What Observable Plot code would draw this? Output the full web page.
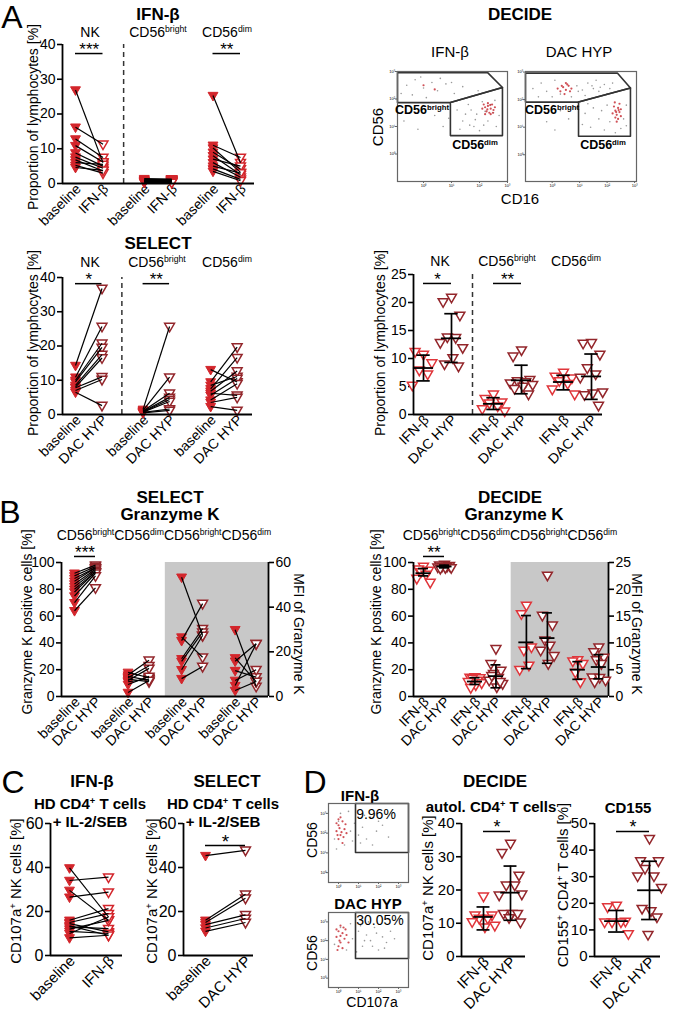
<!DOCTYPE html>
<html><head><meta charset="utf-8">
<script src="https://cdn.jsdelivr.net/npm/d3@7"></script>
<script src="https://cdn.jsdelivr.net/npm/@observablehq/plot@0.6"></script>
<style>
body{margin:0;background:#fff;font-family:"Liberation Sans",Arial,sans-serif;color:#000}
#root{position:relative;width:677px;height:1011px;overflow:hidden;background:#fff}
.t{position:absolute;white-space:nowrap;line-height:1}
sup{font-size:0.62em;vertical-align:0;position:relative;top:-0.55em}
</style></head><body><div id="root"></div><script>
// ---------------- DATA ----------------
// A – IFN-β cohort, paired baseline -> IFN-β (% of lymphocytes)
const aIfnNkBase  = [26.9,16.2,12.8,10.9,8.8,7.6,6.8,6.0,5.2,4.6];
const aIfnNkPost  = [6.0,11.3,7.5,6.2,5.0,4.4,3.6,5.5,3.0,3.8];
const aIfnBrBase  = [1.4,1.2,1.0,0.9,0.8,0.7,0.6,0.5,0.4,0.3];
const aIfnBrPost  = [1.3,1.1,0.9,0.8,1.0,0.6,0.7,0.4,0.5,0.3];
const aIfnDimBase = [25.3,11.0,10.2,9.0,8.0,7.0,6.0,5.0,4.2,3.5];
const aIfnDimPost = [6.0,7.5,3.2,4.2,2.5,5.0,1.8,3.0,1.2,0.8];
// A – SELECT, paired baseline -> DAC HYP
const aSelNkBase  = [14.3,10.9,10.0,9.5,8.5,8.0,7.8,7.0,6.5];
const aSelNkPost  = [36.8,25.7,20.8,19.6,17.5,16.5,11.0,10.2,2.6];
const aSelBrBase  = [1.5,1.2,1.0,0.9,0.8,0.7,0.6,0.5];
const aSelBrPost  = [25.7,10.9,6.2,5.0,4.4,3.8,1.6,1.2];
const aSelDimBase = [13.1,9.5,8.5,7.5,6.8,6.2,5.6,4.2,3.5,2.3];
const aSelDimPost = [9.5,19.7,11.1,16.6,12.7,5.6,10.5,9.0,5.0,1.2];
// A – DECIDE, IFN-β vs DAC HYP (values; stats = [mean, lower SD, upper SD])
const aDecNkIfn  = [10.7,11.2,9.2,7.9,7.2,5.2];
const aDecNkDac  = [20.9,20.1,17.7,13.8,13.7,12.8,11.9,10.1,9.0,8.6];
const aDecBrIfn  = [3.6,2.8,2.2,2.0,1.5,1.0,0.6];
const aDecBrDac  = [11.5,10.4,6.2,6.0,5.8,5.6,5.3,5.0,4.6,3.6];
const aDecDimIfn = [7.5,6.8,6.5,6.0,5.5,4.5,3.6];
const aDecDimDac = [12.8,12.7,10.7,8.3,7.2,6.6,4.0,3.8,3.5,1.6];
const aDecStats  = [[8.3,6.0,10.6],[13.6,9.3,18.0],[1.9,0.9,3.0],[6.1,3.7,8.8],[5.8,4.4,7.0],[6.8,2.7,10.8]];
// A – DECIDE flow plots (log10 decades of CD16, CD56)
const flowIfnGrey = [[-0.6,2.5],[-0.3,2.7],[0.0,2.4],[0.3,2.6],[0.5,2.3],[0.8,2.55],[1.1,2.2],[1.4,2.45],[-0.8,2.2],[0.1,2.05],[0.6,2.75],[1.7,2.1],[-0.4,2.15],[-0.7,1.2],[-0.2,0.9],[0.4,1.4],[0.7,1.0],[0.2,1.7],[1.2,1.6],[1.4,1.2],[1.6,1.8],[1.8,1.0],[1.9,1.45],[2.1,1.9],[2.0,0.85],[2.3,1.2],[2.5,1.5],[2.6,1.0],[1.5,1.45],[1.7,1.6],[2.2,1.55],[2.4,1.8],[1.3,0.9],[2.55,1.95],[1.85,1.25],[2.15,1.05],[1.0,2.6],[-0.1,2.8],[1.95,2.3],[0.9,1.3],[2.7,1.4],[1.65,1.05]];
const flowIfnRed  = [[2.2,1.7],[2.3,1.75],[2.4,1.65],[2.25,1.55],[2.45,1.8],[2.35,1.5],[2.1,1.65],[2.5,1.6],[2.3,1.85],[2.4,1.45],[2.2,1.45],[2.55,1.7],[2.28,1.62],[2.38,1.78],[2.15,1.8],[2.48,1.5],[0.0,2.5],[0.4,2.35]];
const flowDacGrey = [[-0.7,2.4],[-0.4,2.6],[-0.2,2.3],[0.1,2.7],[0.3,2.2],[0.9,2.5],[1.1,2.35],[1.3,2.6],[1.5,2.4],[1.7,2.3],[1.9,2.55],[2.1,2.4],[1.2,2.15],[0.7,2.1],[-0.5,2.1],[1.6,2.7],[2.0,2.2],[0.0,2.1],[-0.6,1.5],[-0.2,1.2],[0.3,1.6],[0.6,1.3],[0.9,1.7],[0.1,0.9],[1.2,1.5],[1.4,1.0],[1.5,1.7],[1.7,1.3],[1.9,0.9],[2.0,1.8],[2.1,1.2],[2.3,0.8],[2.6,1.3],[2.7,1.8],[1.3,1.85],[1.8,1.6],[2.5,0.95],[2.7,1.05],[1.1,1.1],[1.45,2.5],[1.75,2.45],[0.95,2.3],[2.2,2.6]];
const flowDacRed  = [[0.4,2.45],[0.5,2.35],[0.6,2.5],[0.3,2.3],[0.55,2.55],[0.45,2.2],[0.7,2.4],[0.2,2.4],[0.65,2.3],[0.5,2.6],[0.35,2.5],[2.3,1.6],[2.4,1.7],[2.35,1.45],[2.45,1.55],[2.25,1.75],[2.4,1.3],[2.3,1.35],[2.5,1.65],[2.2,1.5],[2.45,1.85],[2.35,1.2],[2.5,1.4],[2.33,1.55],[2.42,1.62],[2.28,1.9]];
const gateIfnBright = [[-0.93,2.96],[2.29,2.96],[2.82,2.42],[0.96,1.87],[-0.93,1.87],[-0.93,2.96]];
const gateIfnDim    = [[0.96,1.87],[2.82,2.42],[2.82,0.67],[0.96,0.67],[0.96,1.87]];
const gateDacBright = [[-0.97,2.96],[2.38,2.96],[2.85,2.42],[0.96,1.91],[-0.97,1.91],[-0.97,2.96]];
const gateDacDim    = [[0.96,1.91],[2.85,2.42],[2.85,0.67],[0.96,0.67],[0.96,1.91]];
// B – Granzyme K, SELECT paired (% positive; MFI)
const bSelBrBase     = [92,90,88,86,84,82,80,78,75,70,64];
const bSelBrPost     = [98,97,96,96,95,94,93,93,92,90,81];
const bSelDimBase    = [18,16,15,14,13,12,11,9,3];
const bSelDimPost    = [14,27,12,23,11,21,13,15,12];
const bSelBrMfiBase  = [53.4,26.6,25.0,16.9,15.7,12.0,8.0];
const bSelBrMfiPost  = [27.3,17.6,41.6,30.4,28.8,27.3,13.4];
const bSelDimMfiBase = [29.9,17.3,15.8,11.6,7.2,4.9,2.7];
const bSelDimMfiPost = [4.5,6.7,23.6,8.7,12.0,23.6,6.7];
// B – Granzyme K, DECIDE
const bDecBrIfn     = [97,95,94,93,91,88,85];
const bDecBrDac     = [98.5,98,97.5,97,97,96.5,96,96,95.5];
const bDecDimIfn    = [14.5,14.2,13.8,13.5,12,11,10,8.5,6.5];
const bDecDimDac    = [35.6,24.4,19.4,17,14,12,9.5,7,15.5,11];
const bDecBrMfiIfn  = [17,15.4,9.2,8.6,5.8,5];
const bDecBrMfiDac  = [22.6,15.1,13.3,10.5,9.5,8.6,7.6,6.1];
const bDecDimMfiIfn = [6.8,6.6,6.1,4.5,2.7];
const bDecDimMfiDac = [9.2,8.3,7.3,6.8,6.1,3.6,3.0,3.5,2.7];
const bDecStats = [[92,90,95.5],[97,96,98],[11.2,9,14],[15.2,6.5,23.6],[10.1,5.2,15.1],[10.9,6.2,15.6],[5,3.2,6.5],[5.5,3.3,7.8]];
// C – CD107a+ NK cells, paired
const cIfnBase = [39.8,34.1,29.6,26.5,16,15,14.5,13.5,13,12,11,10,8];
const cIfnPost = [17.5,35.6,16,28.8,21.3,19,10.7,9.2,12.2,16,10,17.5,9.2];
const cSelBase = [45.4,16,15,14,12.5,11];
const cSelPost = [47.8,27.8,26,18.5,16.8,15];
// D – DECIDE
const dCd107Ifn = [18.1,12.4,12.4,11.4,11.4,10.4,9.3,8.8];
const dCd107Dac = [34,31.2,24.4,21.4,21.4,18.4,18.7,12.9,12.9,12.9,11.6,10.3];
const dCd155Ifn = [19.2,18.6,13.2,12.9,12.9,12.9,8.5];
const dCd155Dac = [44.3,35.9,35.9,33,30.2,30.2,25.9,17.1,18,14.8,8.2];
const dStats = [[11.9,8.0,14.9],[19.2,10.9,27.2],[13.3,9.2,17.3],[24.9,13.9,35.8]];
const dFlowIfnGrey = [[0.3,2.2],[0.5,3.1],[0.8,1.9],[1.1,2.6],[1.3,3.0],[1.5,2.4],[1.7,2.8],[1.9,2.2],[2.1,3.3],[2.4,2.6],[2.7,2.9],[3.0,2.3],[0.6,3.5],[1.0,3.6],[1.6,2.0],[2.2,1.9],[0.4,1.7],[1.2,2.1],[1.8,3.4],[2.5,3.1]];
const dFlowIfnRed  = [[0.4,2.6],[0.5,2.9],[0.6,2.4],[0.7,3.1],[0.5,2.2],[0.8,2.7],[0.6,3.3],[0.9,2.5],[0.4,3.0],[0.7,2.0],[0.55,2.75],[0.85,2.95],[0.65,2.55],[0.45,2.4],[0.5,3.2],[0.75,2.3]];
const dFlowDacGrey = [[0.3,2.3],[0.6,3.2],[1.2,2.6],[1.5,3.0],[1.7,2.2],[1.9,2.8],[2.1,2.5],[2.3,3.2],[2.5,2.0],[2.7,2.7],[2.9,2.4],[3.1,3.0],[3.3,2.6],[1.4,1.9],[2.0,3.5],[1.1,3.4],[1.8,2.5],[2.4,2.9],[0.9,2.0],[1.6,3.3],[2.8,2.1],[2.2,2.2]];
const dFlowDacRed  = [[0.4,2.7],[0.5,3.0],[0.6,2.4],[0.7,2.9],[0.5,2.2],[0.8,2.6],[0.6,3.3],[0.9,2.8],[0.4,3.1],[0.7,2.1],[0.55,2.5],[0.85,3.1],[1.0,2.4],[0.45,2.0],[0.6,2.75],[0.75,3.2]];
const dGateIfn = [[1.35,4],[4,4],[4,1.52],[1.35,1.52],[1.35,4]];
const dGateDac = [[1.35,4],[4,4],[4,1.55],[1.35,1.55],[1.35,4]];

// ---------------- STYLE / HELPERS ----------------
const RED="#d3262c", DRED="#93262b", RED2="#e0353a";
const FONT='"Liberation Sans",Arial,sans-serif';
const JIT=[0,-0.3,0.3,-0.15,0.15,-0.4,0.4,0.05,-0.25,0.25,-0.05,0.35,-0.35];
const TRI={draw(c,size){const r=Math.sqrt(size/Math.PI);c.moveTo(-r*1.15,-r*0.75);c.lineTo(r*1.15,-r*0.75);c.lineTo(0,r*1.25);c.closePath();}};
const root=document.getElementById("root");
function T(html,x,y,o={}){const d=document.createElement("div");d.className="t";d.innerHTML=html;
  d.style.left=x+"px";d.style.top=y+"px";d.style.fontSize=(o.s||14)+"px";d.style.fontWeight=o.b?"700":"400";
  d.style.transform=`translate(-50%,-50%) rotate(${o.r||0}deg)`;root.appendChild(d);}
function place(svg,l,t){svg.style.position="absolute";svg.style.left=l+"px";svg.style.top=t+"px";root.appendChild(svg);}

function paired(base,post,xb,xp,cb,cp,sc=1){
  const rows=base.map((b,i)=>({b:b*sc,p:post[i]*sc}));
  return [
    Plot.dot(rows,{x:xb,y:"b",symbol:TRI,r:4.3,fill:cb,stroke:cb,strokeWidth:1}),
    Plot.dot(rows,{x:xp,y:"p",symbol:TRI,r:4.3,fill:"white",stroke:cp,strokeWidth:1.5}),
    Plot.link(rows,{x1:xb,y1:"b",x2:xp,y2:"p",stroke:"#000",strokeWidth:1.2})
  ];
}
function scatter(vals,x,color,st,jw=1,sc=1,w=0.36,cap=0.24){
  return [
    Plot.dot(vals,{x:(d,i)=>x+JIT[i%JIT.length]*jw,y:d=>d*sc,symbol:TRI,r:4.3,fill:"white",stroke:color,strokeWidth:1.5}),
    Plot.ruleX([st],{x:()=>x,y1:d=>d[1]*sc,y2:d=>d[2]*sc,strokeWidth:1.7}),
    Plot.ruleY([st],{y:d=>d[0]*sc,x1:()=>x-w,x2:()=>x+w,strokeWidth:1.8}),
    Plot.ruleY([st],{y:d=>d[1]*sc,x1:()=>x-cap,x2:()=>x+cap,strokeWidth:1.7}),
    Plot.ruleY([st],{y:d=>d[2]*sc,x1:()=>x-cap,x2:()=>x+cap,strokeWidth:1.7})
  ];
}
function chart(c){
  const mL=c.mL||48,mR=c.mR||14,mT=40,mB=Math.min(80,1010-c.yBot),fs=c.fs||14,xfs=c.xfs||fs;
  const xDom=[(c.x0-c.xs0)/c.k,(c.x1-c.xs0)/c.k];
  const marks=[
    ...(c.under?c.under(xDom):[]),
    Plot.axisY({ticks:c.yTicks,tickSize:5,tickPadding:2,fontSize:fs,label:null,strokeWidth:1.6}),
    Plot.axisX({ticks:c.xTicks,tickFormat:d=>c.xLabels[c.xTicks.indexOf(d)],tickRotate:-45,tickSize:0,tickPadding:3,dx:3,fontSize:xfs,label:null}),
    ...(c.right?[Plot.axisY({anchor:"right",ticks:c.right.ticks.map(v=>v*c.right.sc),tickFormat:d=>Math.round(d/c.right.sc),tickSize:5,tickPadding:2,fontSize:fs,label:null,strokeWidth:1.6}),
                 Plot.ruleX([xDom[1]],{strokeWidth:1.8})]:[]),
    ...(c.dash!=null?[Plot.ruleX([c.dash],{y1:c.yDom[0],y2:c.yDom[1],stroke:"#333",strokeWidth:1.5,strokeDasharray:"5,4"})]:[]),
    ...c.marks,
    ...(c.sig?[Plot.ruleY(c.sig,{y:"y",x1:"a",x2:"b",strokeWidth:1.5}),
               Plot.text(c.sig,{x:d=>(d.a+d.b)/2,y:"y",text:"s",dy:-4,fontSize:fs+3,lineAnchor:"middle"})]:[]),
    Plot.ruleX([xDom[0]],{strokeWidth:1.8}),
    Plot.ruleY([c.yDom[0]],{strokeWidth:1.8})
  ];
  const svg=Plot.plot({width:c.x1-c.x0+mL+mR,height:c.yBot-c.yTop+mT+mB,marginLeft:mL,marginRight:mR,marginTop:mT,marginBottom:mB,
    x:{type:"linear",domain:xDom},y:{domain:c.yDom},
    style:{background:"transparent",overflow:"visible",fontFamily:FONT,color:"#000"},marks});
  place(svg,c.x0-mL,c.yTop-mT);
}
function flow(c){
  const m=8;
  const svg=Plot.plot({width:c.r-c.l+2*m,height:c.b-c.t+2*m,marginLeft:m,marginRight:m,marginTop:m,marginBottom:m,
    x:{domain:c.xDom},y:{domain:c.yDom},
    style:{background:"transparent",overflow:"visible",fontFamily:FONT,color:"#000"},
    marks:[
      Plot.axisX({ticks:c.ticks,tickFormat:c.fmt,tickSize:2,tickPadding:0.5,fontSize:4,label:null,stroke:"#666"}),
      Plot.axisY({ticks:c.ticks,tickFormat:c.fmt,tickSize:2,tickPadding:0.5,fontSize:4,label:null,stroke:"#666"}),
      Plot.dot(c.grey,{x:d=>d[0],y:d=>d[1],r:0.8,fill:"#9a9a9a"}),
      Plot.dot(c.red,{x:d=>d[0],y:d=>d[1],r:1.1,fill:"#c8323a",fillOpacity:0.85}),
      ...c.gates.map(g=>Plot.line(g,{x:d=>d[0],y:d=>d[1],stroke:"#333",strokeWidth:1.6})),
      Plot.frame({stroke:"#666",strokeWidth:1.2})
    ]});
  place(svg,c.l-m,c.t-m);
}
const sup=["⁰","¹","²","³"];

// ---------------- PANEL A ----------------
T("A",12,17,{s:32});
T("IFN-β",158,14,{s:17,b:1});
T("NK",90,32);T("CD56<sup>bright</sup>",158,32);T("CD56<sup>dim</sup>",227,32);
T("Proportion of lymphocytes [%]",33,117,{r:-90});
{const G=2.5;
chart({x0:62,x1:254,yTop:44,yBot:183,yDom:[0,40],yTicks:[0,10,20,30,40],xs0:75,k:27.5,
  xTicks:[0,1,G,G+1,2*G,2*G+1],xLabels:["baseline","IFN-β","baseline","IFN-β","baseline","IFN-β"],dash:1.75,
  sig:[{a:0,b:1,y:37.4,s:"***"},{a:2*G,b:2*G+1,y:37.4,s:"**"}],
  marks:[...paired(aIfnNkBase,aIfnNkPost,0,1,RED,RED),...paired(aIfnBrBase,aIfnBrPost,G,G+1,RED,RED),...paired(aIfnDimBase,aIfnDimPost,2*G,2*G+1,RED,RED)]});}

T("SELECT",158,243,{s:17,b:1});
T("NK",90,262);T("CD56<sup>bright</sup>",157,262);T("CD56<sup>dim</sup>",227,262);
T("Proportion of lymphocytes [%]",33,343,{r:-90});
{const G=2.55;
chart({x0:62,x1:252,yTop:277,yBot:414,yDom:[0,40],yTicks:[0,10,20,30,40],xs0:75,k:26.5,
  xTicks:[0,1,G,G+1,2*G,2*G+1],xLabels:["baseline","DAC HYP","baseline","DAC HYP","baseline","DAC HYP"],dash:1.75,
  sig:[{a:0,b:1,y:38.2,s:"*"},{a:G,b:G+1,y:38.2,s:"**"}],
  marks:[...paired(aSelNkBase,aSelNkPost,0,1,RED,DRED),...paired(aSelBrBase,aSelBrPost,G,G+1,RED,DRED),...paired(aSelDimBase,aSelDimPost,2*G,2*G+1,RED,DRED)]});}

T("DECIDE",520,14,{s:17,b:1});
T("IFN-β",450,51,{s:15});T("DAC HYP",579,51,{s:15});
T("CD56",377,127,{s:15,r:-90});T("CD16",520,198,{s:15});
flow({l:397,r:507,t:71,b:181,xDom:[-0.93,3],yDom:[-1,3],ticks:[0,1,2,3],fmt:d=>"10"+sup[d],grey:flowIfnGrey,red:flowIfnRed,gates:[gateIfnBright,gateIfnDim]});
flow({l:525,r:636,t:71,b:181,xDom:[-0.97,3.07],yDom:[-0.97,3.02],ticks:[0,1,2,3],fmt:d=>"10"+sup[d],grey:flowDacGrey,red:flowDacRed,gates:[gateDacBright,gateDacDim]});
T("CD56<sup>bright</sup>",422,110,{s:12.5,b:1});T("CD56<sup>dim</sup>",475,145,{s:12.5,b:1});
T("CD56<sup>bright</sup>",552,110,{s:12.5,b:1});T("CD56<sup>dim</sup>",603,145,{s:12.5,b:1});

T("NK",440,261);T("CD56<sup>bright</sup>",507,261);T("CD56<sup>dim</sup>",576,261);
T("Proportion of lymphocytes [%]",380,343,{r:-90});
{const G=2.5;
chart({x0:413,x1:602,yTop:274,yBot:414,yDom:[0,25],yTicks:[0,5,10,15,20,25],xs0:423,k:28,
  xTicks:[0,1,G,G+1,2*G,2*G+1],xLabels:["IFN-β","DAC HYP","IFN-β","DAC HYP","IFN-β","DAC HYP"],dash:1.75,
  sig:[{a:0,b:1,y:23.4,s:"*"},{a:G,b:G+1,y:23.4,s:"**"}],
  marks:[...scatter(aDecNkIfn,0,RED2,aDecStats[0]),...scatter(aDecNkDac,1,DRED,aDecStats[1]),
         ...scatter(aDecBrIfn,G,RED2,aDecStats[2]),...scatter(aDecBrDac,G+1,DRED,aDecStats[3]),
         ...scatter(aDecDimIfn,2*G,RED2,aDecStats[4]),...scatter(aDecDimDac,2*G+1,DRED,aDecStats[5])]});}

// ---------------- PANEL B ----------------
T("B",10,512,{s:32});
T("SELECT",170,497,{s:17,b:1});T("Granzyme K",170,514,{s:17,b:1});
T("CD56<sup>bright</sup>CD56<sup>dim</sup>CD56<sup>bright</sup>CD56<sup>dim</sup>",164,535);
T("Granzyme K positive cells [%]",27,622,{r:-90});T("MFI of Granzyme K",299,634,{r:90});
{const G=2.55,S=100/60;
chart({x0:61,x1:268,yTop:562,yBot:696,yDom:[0,100],yTicks:[0,20,40,60,80,100],xs0:74,k:21,
  xTicks:[0,1,G,G+1,2*G,2*G+1,3*G,3*G+1],xLabels:["baseline","DAC HYP","baseline","DAC HYP","baseline","DAC HYP","baseline","DAC HYP"],
  right:{ticks:[0,20,40,60],sc:S},
  under:xd=>[Plot.rect([0],{x1:(G+1+2*G)/2,x2:xd[1],y1:0,y2:100,fill:"#c8c8c8"})],
  sig:[{a:0,b:1,y:104.5,s:"***"}],
  marks:[...paired(bSelBrBase,bSelBrPost,0,1,RED,DRED),...paired(bSelDimBase,bSelDimPost,G,G+1,RED,DRED),
         ...paired(bSelBrMfiBase,bSelBrMfiPost,2*G,2*G+1,RED,DRED,S),...paired(bSelDimMfiBase,bSelDimMfiPost,3*G,3*G+1,RED,DRED,S)]});}

T("DECIDE",510,497,{s:17,b:1});T("Granzyme K",514,514,{s:17,b:1});
T("CD56<sup>bright</sup>CD56<sup>dim</sup>CD56<sup>bright</sup>CD56<sup>dim</sup>",510,535);
T("Granzyme K positive cells [%]",376,622,{r:-90});T("MFI of Granzyme K",637,634,{r:90});
{const G=2.45,S=100/25;
chart({x0:413,x1:608,yTop:562,yBot:696,yDom:[0,100],yTicks:[0,20,40,60,80,100],xs0:423,k:21,
  xTicks:[0,1,G,G+1,2*G,2*G+1,3*G,3*G+1],xLabels:["IFN-β","DAC HYP","IFN-β","DAC HYP","IFN-β","DAC HYP","IFN-β","DAC HYP"],
  right:{ticks:[0,5,10,15,20,25],sc:S},
  under:xd=>[Plot.rect([0],{x1:(G+1+2*G)/2,x2:xd[1],y1:0,y2:100,fill:"#c8c8c8"})],
  sig:[{a:0,b:1,y:104.5,s:"**"}],
  marks:[...scatter(bDecBrIfn,0,RED2,bDecStats[0],0.8),...scatter(bDecBrDac,1,DRED,bDecStats[1],0.8),
         ...scatter(bDecDimIfn,G,RED2,bDecStats[2],0.8),...scatter(bDecDimDac,G+1,DRED,bDecStats[3],0.8),
         ...scatter(bDecBrMfiIfn,2*G,RED2,bDecStats[4],0.8,S),...scatter(bDecBrMfiDac,2*G+1,DRED,bDecStats[5],0.8,S),
         ...scatter(bDecDimMfiIfn,3*G,RED2,bDecStats[6],0.8,S),...scatter(bDecDimMfiDac,3*G+1,DRED,bDecStats[7],0.8,S)]});}

// ---------------- PANEL C ----------------
T("C",13,782,{s:32});
T("IFN-β",92,781,{s:17,b:1});T("HD CD4<sup>+</sup> T cells",90,804,{s:15,b:1});T("+ IL-2/SEB",90,821,{s:15,b:1});
T("SELECT",227,781,{s:17,b:1});T("HD CD4<sup>+</sup> T cells",223,804,{s:15,b:1});T("+ IL-2/SEB",223,821,{s:15,b:1});
T("CD107a<sup>+</sup> NK cells [%]",16,891,{s:15,r:-90});T("CD107a<sup>+</sup> NK cells [%]",152,891,{s:15,r:-90});
chart({x0:50,x1:122,yTop:823,yBot:955,yDom:[0,60],yTicks:[0,20,40,60],xs0:69,k:39,fs:16,xfs:15,
  xTicks:[0,1],xLabels:["baseline","IFN-β"],marks:[...paired(cIfnBase,cIfnPost,0,1,RED,RED)]});
chart({x0:183,x1:253,yTop:823,yBot:955,yDom:[0,60],yTicks:[0,20,40,60],xs0:205,k:40,fs:16,xfs:15,
  xTicks:[0,1],xLabels:["baseline","DAC HYP"],sig:[{a:0,b:1,y:50,s:"*"}],marks:[...paired(cSelBase,cSelPost,0,1,RED,DRED)]});

// ---------------- PANEL D ----------------
T("D",315,782,{s:32});
T("IFN-β",360,795,{s:15,b:1});T("DAC HYP",368,903,{s:15,b:1});
flow({l:328,r:408,t:803,b:882,xDom:[0,4],yDom:[0,4],ticks:[0.5,1.5,2.5,3.5],fmt:d=>"10"+sup[Math.floor(d)],grey:dFlowIfnGrey,red:dFlowIfnRed,gates:[dGateIfn]});
flow({l:328,r:408,t:912,b:987,xDom:[0,4],yDom:[0,4],ticks:[0.5,1.5,2.5,3.5],fmt:d=>"10"+sup[Math.floor(d)],grey:dFlowDacGrey,red:dFlowDacRed,gates:[dGateDac]});
T("9.96%",376,814,{s:14});T("30.05%",380,920,{s:14});
T("CD56",312,840,{s:14,r:-90});T("CD56",312,953,{s:14,r:-90});T("CD107a",372,1002,{s:14});
T("DECIDE",495,781,{s:17,b:1});T("autol. CD4<sup>+</sup> T cells",491,807,{s:15,b:1});T("CD155",628,807,{s:15,b:1});
T("CD107a<sup>+</sup> NK cells [%]",428,888,{s:15,r:-90});T("CD155<sup>+</sup> CD4<sup>+</sup> T cells [%]",563,885,{s:15,r:-90});
chart({x0:461,x1:525,yTop:823,yBot:956,yDom:[0,40],yTicks:[0,10,20,30,40],xs0:483,k:27,fs:15,
  xTicks:[0,1],xLabels:["IFN-β","DAC HYP"],sig:[{a:0,b:1,y:37.6,s:"*"}],
  marks:[...scatter(dCd107Ifn,0,RED2,dStats[0],1.05),...scatter(dCd107Dac,1,DRED,dStats[1],1.05)]});
chart({x0:594,x1:660,yTop:823,yBot:956,yDom:[0,50],yTicks:[0,10,20,30,40,50],xs0:616,k:33,fs:15,
  xTicks:[0,1],xLabels:["IFN-β","DAC HYP"],sig:[{a:0,b:1,y:47,s:"*"}],
  marks:[...scatter(dCd155Ifn,0,RED2,dStats[2],0.9),...scatter(dCd155Dac,1,DRED,dStats[3],0.9)]});
</script></body></html>
